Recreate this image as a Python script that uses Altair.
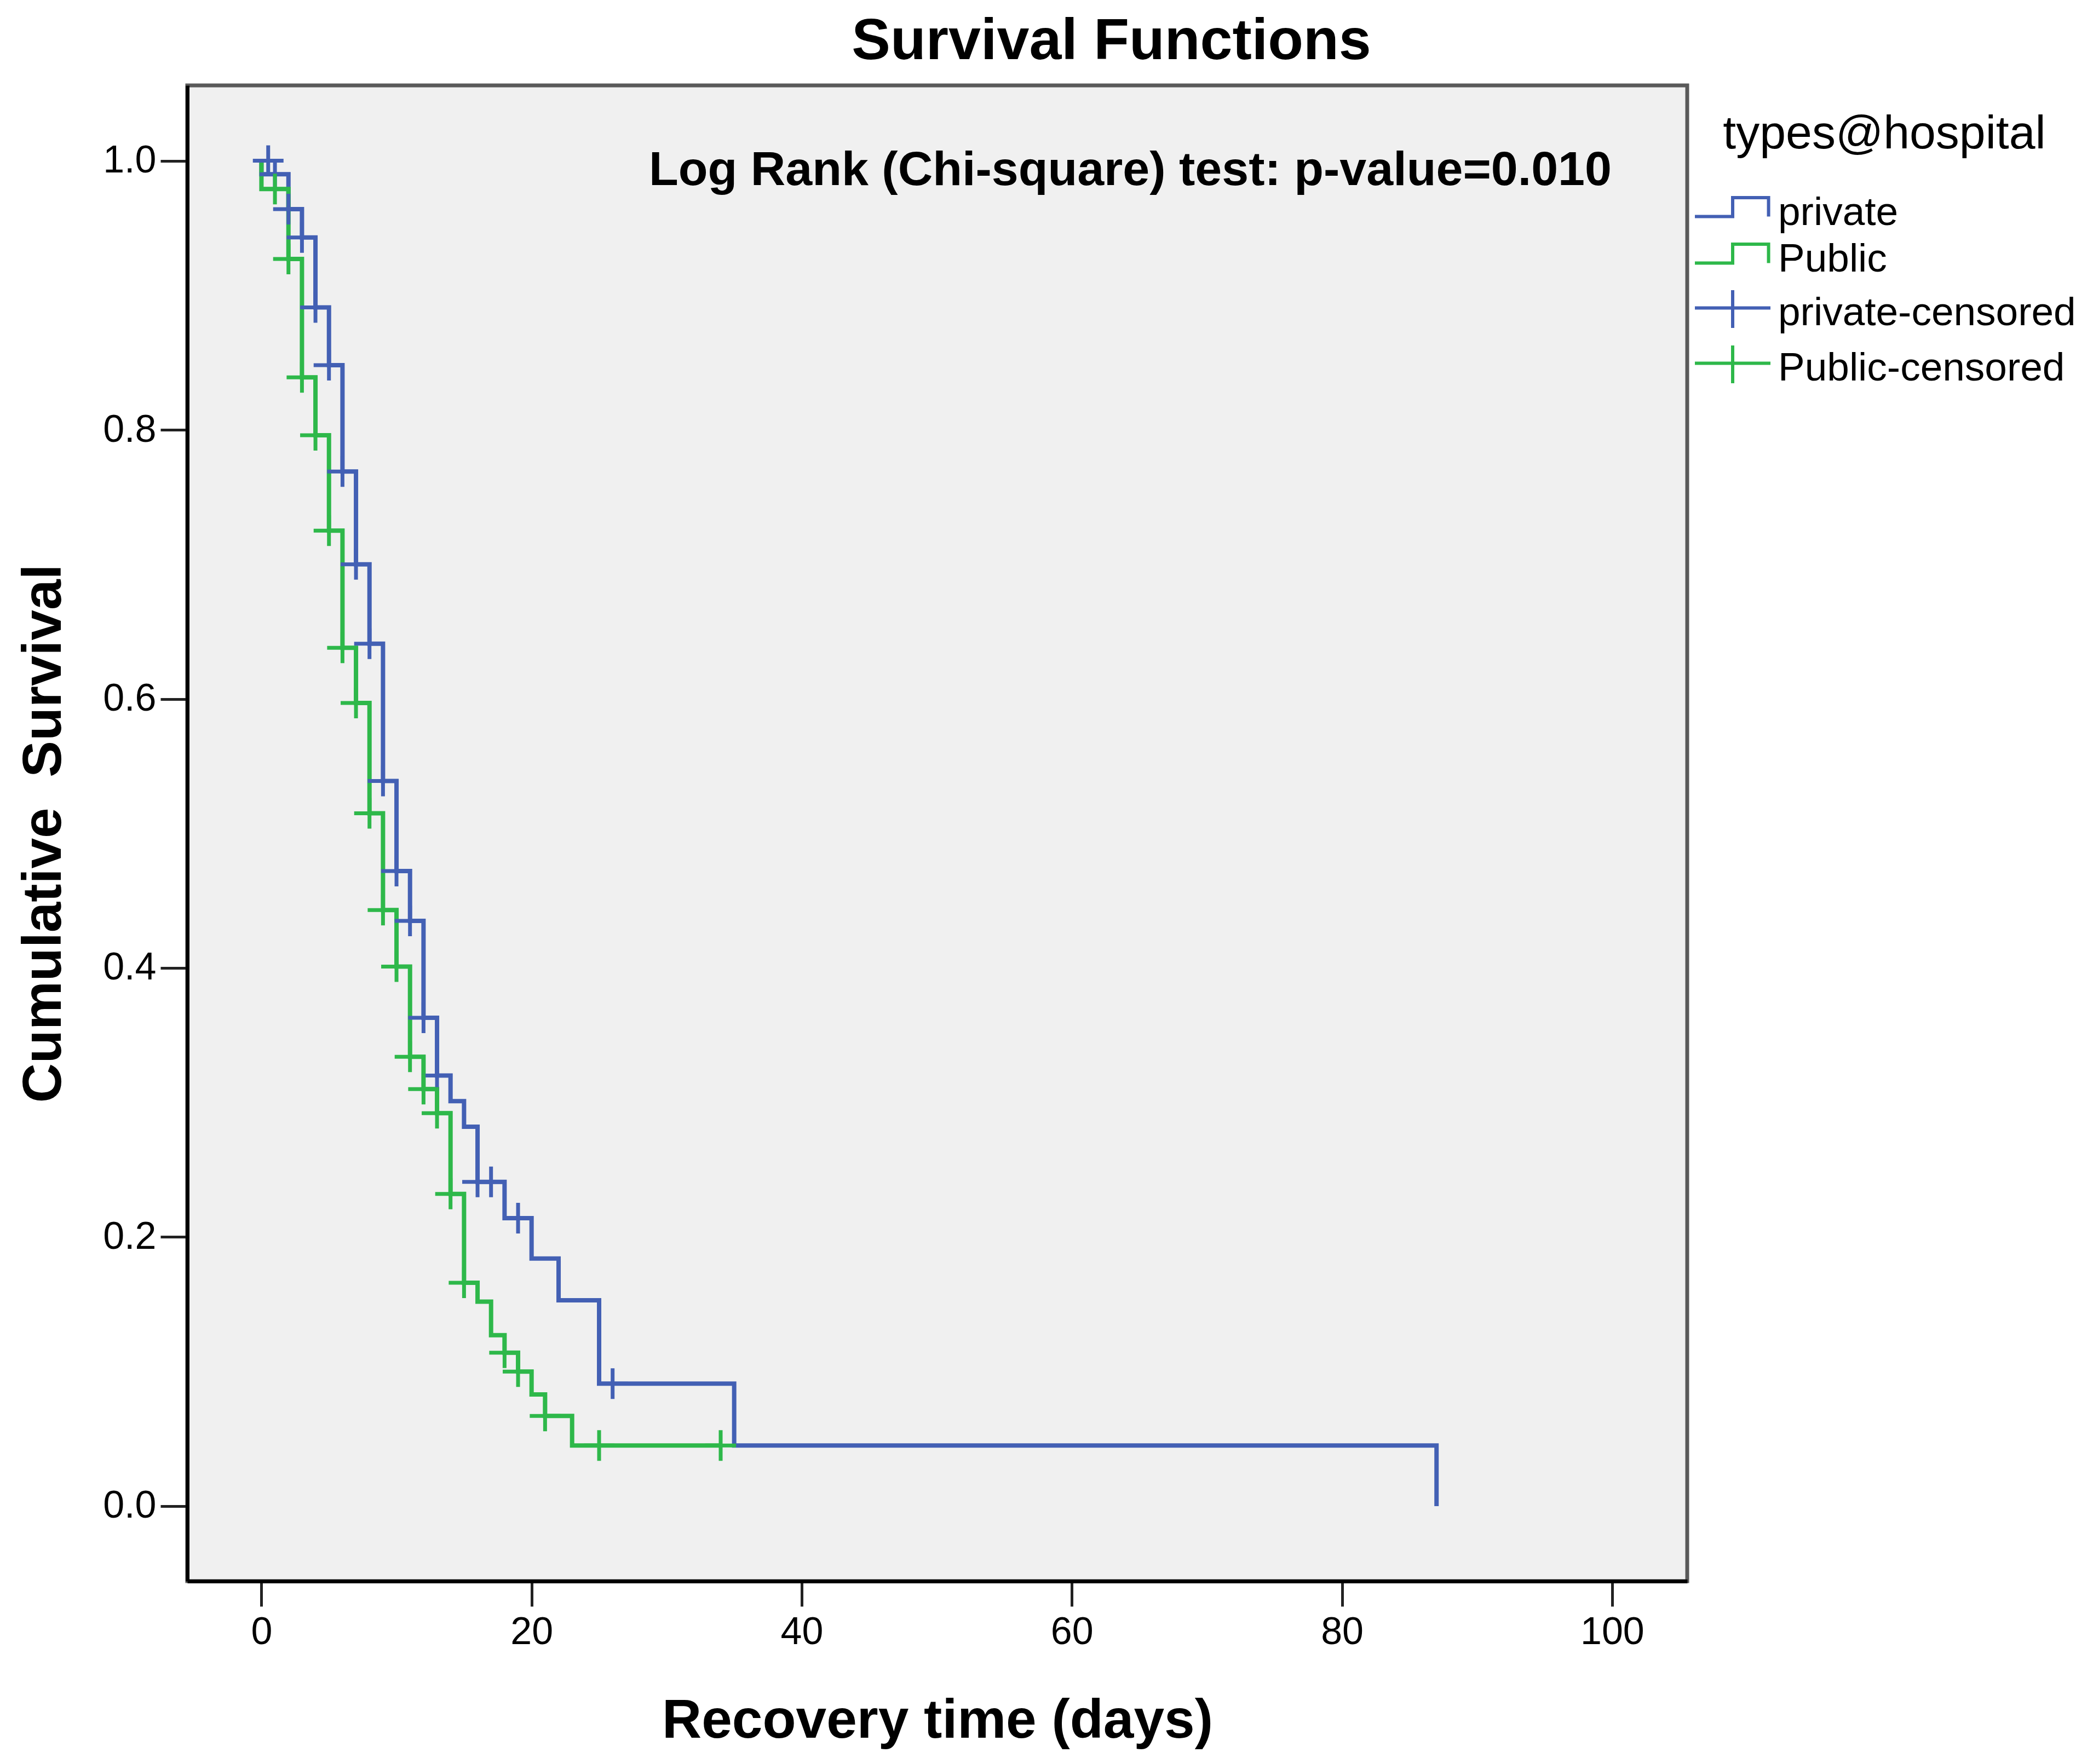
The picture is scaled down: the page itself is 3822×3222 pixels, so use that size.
import altair as alt
import pandas as pd

FONT = "'Liberation Sans', Arial, Helvetica, sans-serif"
BLUE = "#4360B4"
GREEN = "#2EB84A"

legend_labels = ["private", "Public", "private-censored", "Public-censored"]

# Kaplan-Meier step points (time in days, cumulative survival after the step)
private_time = [0, 0, 2, 3, 4, 5, 6, 7, 8, 9, 10, 11, 12, 13, 14, 15, 16, 18, 20, 22, 25, 35, 87]
private_surv = [1.0, 0.990, 0.964, 0.943, 0.891, 0.848, 0.769, 0.700, 0.641, 0.539, 0.472,
                0.435, 0.363, 0.320, 0.301, 0.282, 0.241, 0.214, 0.184, 0.153, 0.091, 0.045, 0.0]

public_time = [0, 0, 2, 3, 4, 5, 6, 7, 8, 9, 10, 11, 12, 13, 14, 15, 16, 17, 18, 19, 20, 21, 23, 34]
public_surv = [1.0, 0.979, 0.927, 0.839, 0.796, 0.725, 0.638, 0.597, 0.515, 0.443, 0.401, 0.334,
               0.310, 0.292, 0.232, 0.166, 0.152, 0.127, 0.114, 0.100, 0.083, 0.067, 0.045, 0.045]

# censored observations
private_cens_time = [0.5, 1, 2, 3, 4, 5, 6, 7, 8, 9, 10, 11, 12, 13, 16, 17, 19, 26]
private_cens_surv = [1.0, 0.990, 0.964, 0.943, 0.891, 0.848, 0.769, 0.700, 0.641, 0.539, 0.472,
                     0.435, 0.363, 0.320, 0.241, 0.241, 0.214, 0.091]

public_cens_time = [1, 2, 3, 4, 5, 6, 7, 8, 9, 10, 11, 12, 13, 14, 15, 18, 19, 21, 25, 34]
public_cens_surv = [0.979, 0.927, 0.839, 0.796, 0.725, 0.638, 0.597, 0.515, 0.443, 0.401, 0.334,
                    0.310, 0.292, 0.232, 0.166, 0.114, 0.100, 0.067, 0.045, 0.045]

x_ticks = [0, 20, 40, 60, 80, 100]
y_ticks = [0.0, 0.2, 0.4, 0.6, 0.8, 1.0]

ANNOTATION = "Log Rank (Chi-square) test: p-value=0.010"


def step_df(times, survs):
    return pd.DataFrame({"t": times, "s": survs, "idx": list(range(len(times)))})


def cens_df(times, survs):
    return pd.DataFrame({"t": times, "s": survs})


STEP_PATH = "M-1,0.2L1,0.2L1,-0.8L2.9,-0.8L2.9,0.2"
CROSS_LEGEND = "M-1,-0.26L3,-0.26M1,-1.2L1,0.8"
CROSS_MARK = "M-1,0L1,0M0,-1L0,1"

color_scale = alt.Scale(domain=legend_labels, range=[BLUE, GREEN, BLUE, GREEN])
shape_scale = alt.Scale(domain=legend_labels, range=[STEP_PATH, STEP_PATH, CROSS_LEGEND, CROSS_LEGEND])

xscale = alt.Scale(domain=[-5.49, 105.56], nice=False, zero=False)
yscale = alt.Scale(domain=[-0.0558, 1.056], nice=False, zero=False)

x_axis = alt.Axis(values=x_ticks, title="Recovery time (days)", grid=False,
                  tickSize=46, tickWidth=5, tickColor="#222222",
                  domainColor="black", domainWidth=7,
                  labelFontSize=70, labelFont=FONT, labelColor="black", labelPadding=13,
                  labelFlush=False, labelOverlap=False,
                  titleFontSize=100, titleFont=FONT, titleFontWeight="bold", titleColor="black",
                  titleY=285, titleBaseline="alphabetic")
y_axis = alt.Axis(values=y_ticks, format=".1f", title="Cumulative\u00a0 Survival", grid=False,
                  tickSize=49, tickWidth=5, tickColor="#222222",
                  domainColor="black", domainWidth=7,
                  labelFontSize=70, labelFont=FONT, labelColor="black", labelPadding=8,
                  labelFlush=False, labelOverlap=False,
                  titleFontSize=100, titleFont=FONT, titleFontWeight="bold", titleColor="black",
                  titleAngle=270, titleX=-232, titleBaseline="alphabetic")

LEG = dict(title="types@hospital", orient="none", legendX=2750, legendY=47, padding=0,
           titleFontSize=86, titleFont=FONT, titleFontWeight="normal", titleColor="black",
           titleAnchor="middle", titlePadding=62, titleLimit=2000,
           labelFontSize=73, labelFont=FONT, labelColor="black", labelOffset=80, labelLimit=2000,
           symbolSize=4761, symbolStrokeWidth=6, symbolOpacity=1, rowPadding=7,
           symbolFillColor="transparent")


def step_layer(times, survs, color):
    return alt.Chart(step_df(times, survs)).mark_line(
        interpolate="step-after", strokeWidth=8, clip=True, color=color
    ).encode(
        x=alt.X("t:Q", scale=xscale, axis=x_axis),
        y=alt.Y("s:Q", scale=yscale, axis=y_axis),
        order=alt.Order("idx:Q"),
    )


def cross_layer(times, survs, color):
    return alt.Chart(cens_df(times, survs)).mark_point(
        shape=CROSS_MARK, size=3136, filled=False, strokeWidth=7, opacity=1, clip=True, color=color
    ).encode(
        x=alt.X("t:Q", scale=xscale),
        y=alt.Y("s:Q", scale=yscale),
    )


# carrier layer for the legend only (invisible marks inside the plot area)
legend_layer = alt.Chart(pd.DataFrame({"cat": legend_labels})).mark_point(
    filled=False, strokeWidth=6, opacity=0, size=4761
).encode(
    x=alt.value(1500),
    y=alt.value(1500),
    color=alt.Color("cat:N", scale=color_scale, legend=alt.Legend(**LEG)),
    shape=alt.Shape("cat:N", scale=shape_scale, legend=alt.Legend(**LEG)),
)

annot = alt.Chart(pd.DataFrame({"label": [ANNOTATION]})).mark_text(
    align="left", baseline="alphabetic", fontSize=88, fontWeight="bold", font=FONT, color="black"
).encode(text="label:N", x=alt.value(843), y=alt.value(182))

chart = alt.layer(
    step_layer(private_time, private_surv, BLUE),
    step_layer(public_time, public_surv, GREEN),
    cross_layer(private_cens_time, private_cens_surv, BLUE),
    cross_layer(public_cens_time, public_cens_surv, GREEN),
    legend_layer,
    annot,
).properties(
    width=2739, height=2732,
    background="white",
    title=alt.TitleParams("Survival Functions", fontSize=106, font=FONT, fontWeight="bold",
                          anchor="middle", frame="group", dx=318, offset=26, color="black"),
    padding={"left": 334, "top": 148, "right": 733, "bottom": 326},
    autosize=alt.AutoSizeParams(type="none"),
).configure_view(
    fill="#F0F0F0", stroke="#5A5A5A", strokeWidth=7
)

chart.save("out.html", embed_options={"renderer": "svg", "actions": False})
